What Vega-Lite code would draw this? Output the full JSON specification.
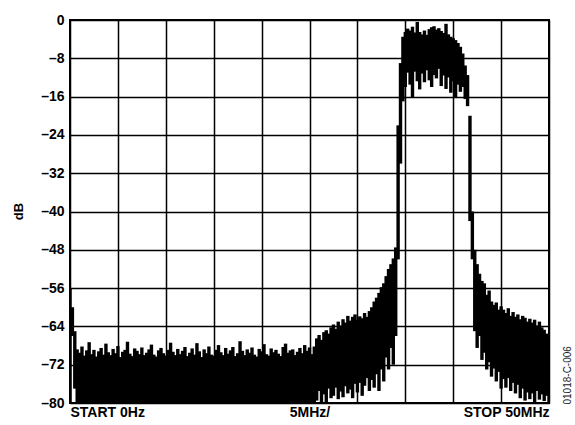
{
  "$schema": "https://vega.github.io/schema/vega-lite/v6.json",
  "width": 479,
  "height": 383,
  "autosize": {"type": "none"},
  "padding": {"left": 70, "top": 20, "right": 26, "bottom": 22},
  "background": "white",
  "config": {
    "font": "Liberation Sans",
    "view": {"stroke": "black", "strokeWidth": 2},
    "axis": {"labelFontWeight": "bold", "labelFontSize": 14, "labelColor": "black", "titleColor": "black"}
  },
  "data": {"values": [
    {"f":0,"hi":-56,"lo":-80},{"f":0.25,"hi":-60,"lo":-66},{"f":0.5,"hi":-65,"lo":-77},
    {"f":0.75,"hi":-68.8,"lo":-80},{"f":1.0,"hi":-69.5,"lo":-80},{"f":1.25,"hi":-68.2,"lo":-80},{"f":1.5,"hi":-70.1,"lo":-80},{"f":1.75,"hi":-69.0,"lo":-80},
    {"f":2.0,"hi":-67.3,"lo":-80},{"f":2.25,"hi":-69.8,"lo":-80},{"f":2.5,"hi":-68.9,"lo":-80},{"f":2.75,"hi":-70.3,"lo":-80},
    {"f":3.0,"hi":-69.2,"lo":-80},{"f":3.25,"hi":-68.5,"lo":-80},{"f":3.5,"hi":-69.9,"lo":-80},{"f":3.75,"hi":-67.6,"lo":-80},
    {"f":4.0,"hi":-69.4,"lo":-80},{"f":4.25,"hi":-70.0,"lo":-80},{"f":4.5,"hi":-68.7,"lo":-80},{"f":4.75,"hi":-69.6,"lo":-80},
    {"f":5.0,"hi":-68.1,"lo":-80},{"f":5.25,"hi":-70.4,"lo":-80},{"f":5.5,"hi":-69.3,"lo":-80},{"f":5.75,"hi":-68.9,"lo":-80},
    {"f":6.0,"hi":-67.2,"lo":-80},{"f":6.25,"hi":-69.7,"lo":-80},{"f":6.5,"hi":-70.2,"lo":-80},{"f":6.75,"hi":-68.6,"lo":-80},
    {"f":7.0,"hi":-69.1,"lo":-80},{"f":7.25,"hi":-69.8,"lo":-80},{"f":7.5,"hi":-68.4,"lo":-80},{"f":7.75,"hi":-70.0,"lo":-80},
    {"f":8.0,"hi":-69.5,"lo":-80},{"f":8.25,"hi":-68.8,"lo":-80},{"f":8.5,"hi":-67.8,"lo":-80},{"f":8.75,"hi":-69.9,"lo":-80},
    {"f":9.0,"hi":-70.3,"lo":-80},{"f":9.25,"hi":-69.0,"lo":-80},{"f":9.5,"hi":-68.5,"lo":-80},{"f":9.75,"hi":-69.6,"lo":-80},
    {"f":10.0,"hi":-70.1,"lo":-80},{"f":10.25,"hi":-68.9,"lo":-80},{"f":10.5,"hi":-67.4,"lo":-80},{"f":10.75,"hi":-69.3,"lo":-80},
    {"f":11.0,"hi":-70.0,"lo":-80},{"f":11.25,"hi":-68.7,"lo":-80},{"f":11.5,"hi":-69.8,"lo":-80},{"f":11.75,"hi":-69.1,"lo":-80},
    {"f":12.0,"hi":-68.3,"lo":-80},{"f":12.25,"hi":-70.2,"lo":-80},{"f":12.5,"hi":-69.5,"lo":-80},{"f":12.75,"hi":-68.6,"lo":-80},
    {"f":13.0,"hi":-69.9,"lo":-80},{"f":13.25,"hi":-67.5,"lo":-80},{"f":13.5,"hi":-69.2,"lo":-80},{"f":13.75,"hi":-70.4,"lo":-80},
    {"f":14.0,"hi":-68.8,"lo":-80},{"f":14.25,"hi":-69.6,"lo":-80},{"f":14.5,"hi":-68.2,"lo":-80},{"f":14.75,"hi":-69.9,"lo":-80},
    {"f":15.0,"hi":-70.1,"lo":-80},{"f":15.25,"hi":-68.9,"lo":-80},{"f":15.5,"hi":-67.9,"lo":-80},{"f":15.75,"hi":-69.4,"lo":-80},
    {"f":16.0,"hi":-70.0,"lo":-80},{"f":16.25,"hi":-68.5,"lo":-80},{"f":16.5,"hi":-69.7,"lo":-80},{"f":16.75,"hi":-69.0,"lo":-80},
    {"f":17.0,"hi":-68.3,"lo":-80},{"f":17.25,"hi":-70.2,"lo":-80},{"f":17.5,"hi":-69.6,"lo":-80},{"f":17.75,"hi":-67.1,"lo":-80},
    {"f":18.0,"hi":-69.1,"lo":-80},{"f":18.25,"hi":-70.0,"lo":-80},{"f":18.5,"hi":-68.8,"lo":-80},{"f":18.75,"hi":-69.5,"lo":-80},
    {"f":19.0,"hi":-68.4,"lo":-80},{"f":19.25,"hi":-69.9,"lo":-80},{"f":19.5,"hi":-70.3,"lo":-80},{"f":19.75,"hi":-68.7,"lo":-80},
    {"f":20.0,"hi":-69.2,"lo":-80},{"f":20.25,"hi":-67.7,"lo":-80},{"f":20.5,"hi":-69.8,"lo":-80},{"f":20.75,"hi":-70.1,"lo":-80},
    {"f":21.0,"hi":-68.6,"lo":-80},{"f":21.25,"hi":-69.4,"lo":-80},{"f":21.5,"hi":-68.9,"lo":-80},{"f":21.75,"hi":-69.7,"lo":-80},
    {"f":22.0,"hi":-70.2,"lo":-80},{"f":22.25,"hi":-68.3,"lo":-80},{"f":22.5,"hi":-67.6,"lo":-80},{"f":22.75,"hi":-69.5,"lo":-80},
    {"f":23.0,"hi":-69.0,"lo":-80},{"f":23.25,"hi":-68.8,"lo":-80},{"f":23.5,"hi":-70.0,"lo":-80},{"f":23.75,"hi":-69.3,"lo":-80},
    {"f":24.0,"hi":-68.5,"lo":-80},{"f":24.25,"hi":-69.6,"lo":-80},{"f":24.5,"hi":-67.9,"lo":-80},{"f":24.75,"hi":-69.1,"lo":-80},
    {"f":25.0,"hi":-68.4,"lo":-80},{"f":25.25,"hi":-69.8,"lo":-80},{"f":25.5,"hi":-68.2,"lo":-80},
    {"f":25.75,"hi":-66.5,"lo":-79.5},{"f":26.0,"hi":-65.8,"lo":-77.5},{"f":26.25,"hi":-66.8,"lo":-79.8},{"f":26.5,"hi":-65.2,"lo":-78.2},
    {"f":26.75,"hi":-64.8,"lo":-80},{"f":27.0,"hi":-65.5,"lo":-77.0},{"f":27.25,"hi":-64.2,"lo":-79.0},{"f":27.5,"hi":-63.6,"lo":-78.5},
    {"f":27.75,"hi":-64.5,"lo":-76.8},{"f":28.0,"hi":-63.0,"lo":-79.2},{"f":28.25,"hi":-63.8,"lo":-77.6},{"f":28.5,"hi":-62.5,"lo":-78.8},
    {"f":28.75,"hi":-63.2,"lo":-76.5},{"f":29.0,"hi":-61.8,"lo":-78.0},{"f":29.25,"hi":-62.8,"lo":-77.2},{"f":29.5,"hi":-62.0,"lo":-79.0},
    {"f":29.75,"hi":-61.5,"lo":-76.0},{"f":30.0,"hi":-62.6,"lo":-77.8},{"f":30.25,"hi":-61.9,"lo":-75.8},{"f":30.5,"hi":-62.3,"lo":-78.5},
    {"f":30.75,"hi":-61.2,"lo":-76.4},{"f":31.0,"hi":-62.0,"lo":-74.8},{"f":31.25,"hi":-60.8,"lo":-77.5},{"f":31.5,"hi":-60.0,"lo":-75.2},
    {"f":31.75,"hi":-58.8,"lo":-76.8},{"f":32.0,"hi":-58.0,"lo":-74.0},{"f":32.25,"hi":-57.0,"lo":-77.5},{"f":32.5,"hi":-55.8,"lo":-73.0},
    {"f":32.75,"hi":-55.0,"lo":-75.5},{"f":33.0,"hi":-53.5,"lo":-70.5},{"f":33.25,"hi":-52.0,"lo":-73.0},{"f":33.5,"hi":-51.0,"lo":-68.5},
    {"f":33.75,"hi":-49.8,"lo":-72.0},{"f":34.0,"hi":-47.5,"lo":-66.0},{"f":34.25,"hi":-22,"lo":-50},{"f":34.5,"hi":-9,"lo":-30},
    {"f":34.75,"hi":-3.5,"lo":-17},
    {"f":35.0,"hi":-2.5,"lo":-14.0},{"f":35.25,"hi":-1.8,"lo":-11.0},{"f":35.5,"hi":-2.2,"lo":-13.5},{"f":35.75,"hi":-1.4,"lo":-16.2},
    {"f":36.0,"hi":-2.6,"lo":-10.8},{"f":36.25,"hi":-0.4,"lo":-12.8},{"f":36.5,"hi":-2.5,"lo":-14.5},{"f":36.75,"hi":-3.0,"lo":-11.2},
    {"f":37.0,"hi":-2.2,"lo":-13.0},{"f":37.25,"hi":-3.1,"lo":-10.5},{"f":37.5,"hi":-1.9,"lo":-12.6},{"f":37.75,"hi":-1.5,"lo":-14.0},
    {"f":38.0,"hi":-1.3,"lo":-11.5},{"f":38.25,"hi":-2.0,"lo":-12.2},{"f":38.5,"hi":-1.7,"lo":-10.2},{"f":38.75,"hi":-2.3,"lo":-13.8},
    {"f":39.0,"hi":-2.7,"lo":-11.6},{"f":39.25,"hi":-0.8,"lo":-14.4},{"f":39.5,"hi":-3.0,"lo":-12.0},{"f":39.75,"hi":-3.5,"lo":-15.2},
    {"f":40.0,"hi":-3.8,"lo":-12.8},{"f":40.25,"hi":-4.2,"lo":-16.3},{"f":40.5,"hi":-4.8,"lo":-13.5},{"f":40.75,"hi":-5.6,"lo":-15.0},
    {"f":41.0,"hi":-7.0,"lo":-14.0},{"f":41.25,"hi":-9.5,"lo":-16.5},{"f":41.5,"hi":-11.5,"lo":-18.0},
    {"f":41.75,"hi":-20,"lo":-42},{"f":42.0,"hi":-40,"lo":-50},
    {"f":42.25,"hi":-48.0,"lo":-65.0},{"f":42.5,"hi":-51.0,"lo":-68.5},{"f":42.75,"hi":-53.0,"lo":-66.0},{"f":43.0,"hi":-54.5,"lo":-71.0},
    {"f":43.25,"hi":-55.0,"lo":-69.5},{"f":43.5,"hi":-57.4,"lo":-73.0},{"f":43.75,"hi":-56.5,"lo":-71.5},{"f":44.0,"hi":-58.8,"lo":-74.5},
    {"f":44.25,"hi":-59.5,"lo":-72.8},{"f":44.5,"hi":-59.0,"lo":-75.5},{"f":44.75,"hi":-60.5,"lo":-73.5},{"f":45.0,"hi":-59.8,"lo":-77.0},
    {"f":45.25,"hi":-60.5,"lo":-75.0},{"f":45.5,"hi":-61.2,"lo":-76.8},{"f":45.75,"hi":-60.2,"lo":-74.8},{"f":46.0,"hi":-61.8,"lo":-77.5},
    {"f":46.25,"hi":-61.0,"lo":-75.8},{"f":46.5,"hi":-62.0,"lo":-78.0},{"f":46.75,"hi":-61.5,"lo":-76.2},{"f":47.0,"hi":-62.5,"lo":-79.0},
    {"f":47.25,"hi":-61.8,"lo":-77.0},{"f":47.5,"hi":-62.2,"lo":-79.5},{"f":47.75,"hi":-63.0,"lo":-77.8},{"f":48.0,"hi":-62.4,"lo":-79.2},
    {"f":48.25,"hi":-63.2,"lo":-78.0},{"f":48.5,"hi":-62.6,"lo":-79.8},{"f":48.75,"hi":-63.8,"lo":-77.5},{"f":49.0,"hi":-63.0,"lo":-79.3},
    {"f":49.25,"hi":-64.2,"lo":-78.2},{"f":49.5,"hi":-64.7,"lo":-79.6},{"f":49.75,"hi":-65.5,"lo":-78.5},{"f":50.0,"hi":-66.0,"lo":-80}
  ]},
  "layer": [
    {
      "mark": {"type": "rule", "color": "black", "strokeWidth": 3.4, "strokeCap": "butt", "clip": true},
      "encoding": {
        "x": {"field": "f", "type": "quantitative", "scale": {"domain": [0, 50], "nice": false, "zero": false},
          "axis": {"values": [0,5,10,15,20,25,30,35,40,45,50], "title": null, "ticks": false, "domain": false,
            "grid": true, "gridColor": "black", "gridWidth": 1.5, "gridOpacity": 1,
            "labelExpr": "datum.value == 0 ? 'START 0Hz' : datum.value == 50 ? 'STOP 50MHz' : datum.value == 25 ? '5MHz/' : ''",
            "labelFlush": true, "labelOverlap": false, "labelPadding": 2, "labelBound": false}},
        "y": {"field": "lo", "type": "quantitative", "scale": {"domain": [-80, 0], "nice": false, "zero": false},
          "axis": {"values": [-80,-72,-64,-56,-48,-40,-32,-24,-16,-8,0], "title": "dB", "ticks": false, "domain": false,
            "grid": true, "gridColor": "black", "gridWidth": 1.5, "gridOpacity": 1,
            "labelExpr": "datum.value == 0 ? '0' : '\u2013' + abs(datum.value)", "labelPadding": 6,
            "titleFontSize": 13, "titleFontWeight": "bold", "titleAngle": 270, "titleX": -52, "titleY": 191, "titleAlign": "center", "titleBaseline": "middle"}},
        "y2": {"field": "hi"}
      }
    },
    {
      "mark": {"type": "point", "opacity": 0},
      "encoding": {
        "x": {"field": "f", "type": "quantitative"},
        "y": {"field": "lo", "type": "quantitative",
          "axis": {"orient": "right", "title": "01018-C-006", "labels": false, "ticks": false, "domain": false, "grid": false,
            "titleFontSize": 10, "titleFontWeight": "normal", "titleColor": "#222", "titleAngle": 270, "titleX": 18, "titleY": 384,
            "titleAlign": "left", "titleBaseline": "middle"}}
      }
    }
  ],
  "resolve": {"axis": {"y": "independent"}}
}
